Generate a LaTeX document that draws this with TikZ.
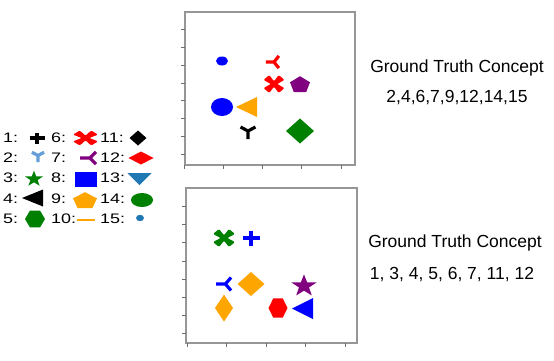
\documentclass[tikz,border=0pt]{standalone}
\usepackage{graphicx}
\usepackage{fontspec}
\setmainfont{Liberation Sans}
\definecolor{mred}{RGB}{255,0,0}
\definecolor{mblue}{RGB}{0,0,255}
\definecolor{mgreen}{RGB}{0,128,0}
\definecolor{mpurple}{RGB}{128,0,128}
\definecolor{morange}{RGB}{255,165,0}
\definecolor{mlblue}{RGB}{100,160,215}
\definecolor{msteel}{RGB}{31,119,180}
\definecolor{frgray}{RGB}{150,150,150}
\definecolor{tkgray}{RGB}{110,110,110}
\newcommand\lx[1]{\scalebox{1.3}[1]{#1}}
\tikzset{
  frame/.style={draw=frgray, line width=1.2pt},
  tickmark/.style={draw=tkgray, line width=0.8pt},
  lbl/.style={anchor=west, inner sep=0pt, font=\fontsize{13.8}{16}\selectfont},
  gt/.style={inner sep=0pt, font=\fontsize{17.5}{20}\selectfont},
  mplus/.pic={\draw[line width=3.2pt] (-1,0)--(1,0) (0,-1)--(0,1);},
  mtridown/.pic={\draw[line width=3.2pt] (0,0)--(0,1) (0,0)--(-0.87,-0.5) (0,0)--(0.87,-0.5);},
  mtriside/.pic={\draw[line width=3.2pt] (0,0)--(-1,0) (0,0)--(0.6,-0.87) (0,0)--(0.6,0.87);},
  mstar/.pic={\fill (0,-1)--(0.235,-0.324)--(0.951,-0.309)--(0.380,0.124)--(0.588,0.809)--(0,0.4)--(-0.588,0.809)--(-0.380,0.124)--(-0.951,-0.309)--(-0.235,-0.324)--cycle;},
  mpent/.pic={\fill (0,-1)--(0.951,-0.309)--(0.588,0.809)--(-0.588,0.809)--(-0.951,-0.309)--cycle;},
  mhex/.pic={\fill (1,0)--(0.5,0.866)--(-0.5,0.866)--(-1,0)--(-0.5,-0.866)--(0.5,-0.866)--cycle;},
  mX/.pic={\fill[rounded corners=1.2pt] (0,-0.3)--(0.45,-1)--(1,-0.45)--(0.3,0)--(1,0.45)--(0.45,1)--(0,0.3)--(-0.45,1)--(-1,0.45)--(-0.3,0)--(-1,-0.45)--(-0.45,-1)--cycle;},
  mdiam/.pic={\fill (0,-1)--(1,0)--(0,1)--(-1,0)--cycle;},
  msq/.pic={\fill (-1,-1) rectangle (1,1);},
  mtrileft/.pic={\fill (-1,0)--(1,-1)--(1,1)--cycle;},
  mtridn/.pic={\fill (-1,-1)--(1,-1)--(0,1)--cycle;},
  mcirc/.pic={\fill (0,0) circle (1);},
  mhline/.pic={\draw[line width=2.2pt] (-1,0)--(1,0);},
}
\begin{document}
\begin{tikzpicture}[x=1pt,y=-1pt]
\useasboundingbox (0,0) rectangle (554,360);
% ---------- legend ----------
\node[lbl] (l1) at (3,138) {\lx{1:}};
\node[lbl] (l2) at (3,158) {\lx{2:}};
\node[lbl] (l3) at (3,178) {\lx{3:}};
\node[lbl] (l4) at (3,199) {\lx{4:}};
\node[lbl] (l5) at (3,219) {\lx{5:}};
\node[lbl] (l6) at (51,138) {\lx{6:}};
\node[lbl] (l7) at (51,158) {\lx{7:}};
\node[lbl] (l8) at (51,178) {\lx{8:}};
\node[lbl] (l9) at (51,199) {\lx{9:}};
\node[lbl] (l10) at (51,219) {\lx{10:}};
\node[lbl] (l11) at (100,138) {\lx{11:}};
\node[lbl] (l12) at (100,158) {\lx{12:}};
\node[lbl] (l13) at (100,178) {\lx{13:}};
\node[lbl] (l14) at (100,199) {\lx{14:}};
\node[lbl] (l15) at (100,219) {\lx{15:}};
\pic[black, xscale=7.5, yscale=5.5] at (37,138) {mplus};
\pic[mlblue, xscale=7, yscale=6.5] at (38,155.5) {mtridown};
\pic[mgreen, xscale=9.5, yscale=8.3] at (34,179) {mstar};
\pic[black, xscale=10.5, yscale=8.5] at (32.5,198) {mtrileft};
\pic[mgreen, xscale=10, yscale=9.8] at (35,219) {mhex};
\pic[mred, xscale=12.5, yscale=7.5] at (85.5,138) {mX};
\pic[mpurple, xscale=10, yscale=7] at (90,158) {mtriside};
\pic[mblue, xscale=11, yscale=7.5] at (86,179) {msq};
\pic[morange, xscale=12.6, yscale=8.8] at (85,201) {mpent};
\pic[morange, xscale=9] at (86,220) {mhline};
\pic[black, xscale=8.5, yscale=7.5] at (138,138) {mdiam};
\pic[mred, xscale=12.5, yscale=6.5] at (141,158) {mdiam};
\pic[msteel, xscale=12, yscale=6] at (139.5,179) {mtridn};
\pic[mgreen, xscale=11, yscale=7] at (142,200) {mcirc};
\pic[msteel, xscale=4, yscale=3.2] at (140,218) {mcirc};
% ---------- top plot ----------
\path[frame] (185,12) rectangle (355,165);
\foreach \yy in {29,47,65,83,100,118,136,154} \path[tickmark] (181,\yy) -- (185,\yy);
\foreach \xx in {184,223.25,262.5,301.75,341} \path[tickmark] (\xx,165) -- (\xx,169);
\pic[mblue, xscale=6, yscale=4.5] at (222,61) {mcirc};
\pic[mred, xscale=8.1, yscale=7] at (274,62) {mtriside};
\pic[mred, xscale=10.5, yscale=9] at (274,84) {mX};
\pic[mpurple, xscale=10.5, yscale=8.8] at (300,85) {mpent};
\pic[mblue, xscale=11, yscale=9] at (222,107) {mcirc};
\pic[morange, xscale=10.5, yscale=10] at (246.5,107) {mtrileft};
\pic[black, xscale=8.6, yscale=8] at (248,131) {mtridown};
\pic[mgreen, xscale=14, yscale=12.5] at (300,131) {mdiam};
% ---------- bottom plot ----------
\path[frame] (186,188) rectangle (357,343);
\foreach \yy in {206,224,242,261,279,297,315,333} \path[tickmark] (182,\yy) -- (186,\yy);
\foreach \xx in {187,226.5,266,305.5,345} \path[tickmark] (\xx,343) -- (\xx,347);
\pic[mgreen, xscale=11, yscale=9] at (224,238) {mX};
\pic[mblue, xscale=8.5, yscale=7.5] at (251,238) {mplus};
\pic[mblue, xscale=9.4, yscale=7.5] at (225.4,284) {mtriside};
\pic[morange, xscale=13.5, yscale=12] at (251,284) {mdiam};
\pic[mpurple, xscale=13.2, yscale=11.6] at (304,286) {mstar};
\pic[morange, xscale=9, yscale=13.5] at (224,308) {mdiam};
\pic[mred, xscale=9.5, yscale=11] at (278,308) {mhex};
\pic[mblue, xscale=10.5, yscale=10.5] at (302.5,308.5) {mtrileft};
% ---------- right texts ----------
\node[gt] (gt1) at (457,68) {Ground Truth Concept};
\node[gt] (c1) at (457,98) {2,4,6,7,9,12,14,15};
\node[gt] (gt2) at (455,243) {Ground Truth Concept};
\node[gt] (c2) at (452,275) {1, 3, 4, 5, 6, 7, 11, 12};
\end{tikzpicture}
\end{document}
